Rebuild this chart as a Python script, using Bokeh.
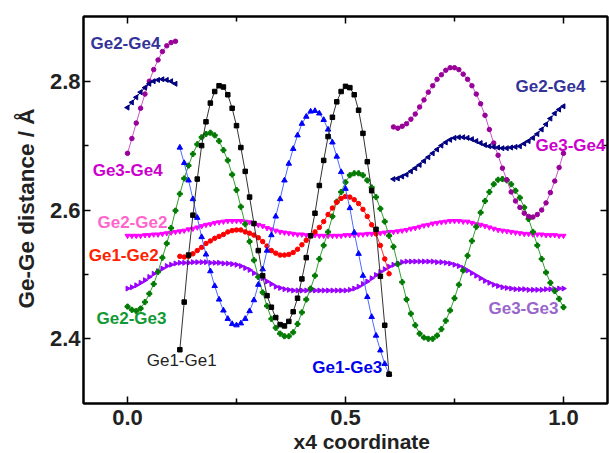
import math
from bokeh.plotting import figure
from bokeh.models import ColumnDataSource, Label, LinearAxis, FixedTicker, Range1d, Title
from bokeh.embed import file_html
from bokeh.resources import INLINE

STEP = 0.01


def grid(start, n):
    return [round(start + i * STEP, 2) for i in range(n)]


# ---- data (x4 = 0.12 .. 0.60) ----
ge1_ge1 = [2.383, 2.457, 2.530, 2.592, 2.648, 2.700, 2.737, 2.766, 2.784, 2.793,
           2.791, 2.779, 2.758, 2.731, 2.697, 2.660, 2.620, 2.579, 2.537, 2.498,
           2.467, 2.449, 2.433, 2.422, 2.420, 2.427, 2.442, 2.463, 2.493, 2.526,
           2.560, 2.595, 2.638, 2.677, 2.714, 2.744, 2.768, 2.784, 2.792, 2.790,
           2.779, 2.755, 2.719, 2.675, 2.630, 2.570, 2.497, 2.421, 2.345]
ge1_ge3 = [2.697, 2.673, 2.646, 2.617, 2.588, 2.558, 2.531, 2.505, 2.482, 2.461,
           2.444, 2.431, 2.423, 2.421, 2.424, 2.431, 2.443, 2.460, 2.484, 2.508,
           2.537, 2.561, 2.590, 2.617, 2.646, 2.672, 2.695, 2.716, 2.734, 2.745,
           2.753, 2.754, 2.750, 2.740, 2.725, 2.705, 2.683, 2.659, 2.633, 2.603,
           2.565, 2.532, 2.498, 2.465, 2.434, 2.405, 2.382, 2.361, 2.345]
ge1_ge2 = [2.528, 2.527, 2.528, 2.532, 2.537, 2.542, 2.548, 2.552, 2.556, 2.559,
           2.562, 2.566, 2.568, 2.569, 2.569, 2.566, 2.564, 2.561, 2.557, 2.551,
           2.544, 2.537, 2.533, 2.530, 2.530, 2.531, 2.534, 2.539, 2.546, 2.553,
           2.560, 2.566, 2.573, 2.582, 2.593, 2.603, 2.612, 2.618, 2.621, 2.620,
           2.616, 2.610, 2.601, 2.590, 2.577, 2.563, 2.545, 2.524, 2.501]

# ---- data (x4 = 0.00 .. 1.00) ----
ge2_ge3 = [2.450, 2.445, 2.443, 2.447, 2.457, 2.470, 2.485, 2.504, 2.526, 2.548,
           2.572, 2.599, 2.625, 2.649, 2.669, 2.687, 2.702, 2.713, 2.718, 2.720,
           2.716, 2.707, 2.693, 2.677, 2.655, 2.631, 2.605, 2.578, 2.551, 2.522,
           2.496, 2.472, 2.451, 2.431, 2.417, 2.408, 2.404, 2.404, 2.410, 2.423,
           2.441, 2.461, 2.478, 2.498, 2.524, 2.545, 2.566, 2.590, 2.613, 2.628,
           2.643, 2.654, 2.657, 2.657, 2.654, 2.646, 2.635, 2.620, 2.602, 2.582,
           2.560, 2.543, 2.516, 2.488, 2.461, 2.439, 2.421, 2.408, 2.402, 2.400,
           2.400, 2.405, 2.415, 2.428, 2.444, 2.463, 2.484, 2.506, 2.529, 2.552,
           2.574, 2.596, 2.614, 2.628, 2.640, 2.647, 2.648, 2.646, 2.640, 2.630,
           2.619, 2.604, 2.586, 2.566, 2.545, 2.524, 2.503, 2.487, 2.474, 2.462,
           2.449]
ge2_ge2 = [2.560, 2.560, 2.560, 2.560, 2.561, 2.561, 2.562, 2.562, 2.563, 2.564,
           2.565, 2.566, 2.567, 2.568, 2.570, 2.571, 2.573, 2.575, 2.577, 2.578,
           2.580, 2.581, 2.582, 2.583, 2.583, 2.583, 2.583, 2.582, 2.581, 2.579,
           2.577, 2.575, 2.572, 2.570, 2.568, 2.566, 2.565, 2.564, 2.563, 2.562,
           2.562, 2.561, 2.561, 2.561, 2.560, 2.560, 2.560, 2.560, 2.560, 2.560,
           2.561, 2.561, 2.561, 2.562, 2.562, 2.563, 2.563, 2.564, 2.564, 2.565,
           2.566, 2.566, 2.567, 2.568, 2.569, 2.571, 2.572, 2.574, 2.576, 2.577,
           2.579, 2.580, 2.581, 2.582, 2.583, 2.583, 2.583, 2.582, 2.582, 2.580,
           2.578, 2.577, 2.575, 2.573, 2.571, 2.569, 2.568, 2.567, 2.566, 2.565,
           2.564, 2.563, 2.563, 2.562, 2.562, 2.562, 2.561, 2.561, 2.561, 2.560,
           2.560]
ge3_ge3 = [2.478, 2.480, 2.483, 2.487, 2.491, 2.496, 2.501, 2.505, 2.509, 2.513,
           2.515, 2.517, 2.518, 2.518, 2.518, 2.519, 2.519, 2.519, 2.519, 2.518,
           2.518, 2.518, 2.517, 2.517, 2.516, 2.515, 2.513, 2.510, 2.507, 2.502,
           2.498, 2.494, 2.489, 2.485, 2.481, 2.479, 2.477, 2.476, 2.475, 2.475,
           2.475, 2.475, 2.475, 2.475, 2.475, 2.475, 2.475, 2.475, 2.475, 2.475,
           2.475, 2.476, 2.478, 2.481, 2.485, 2.489, 2.494, 2.499, 2.504, 2.508,
           2.512, 2.515, 2.517, 2.519, 2.520, 2.520, 2.520, 2.520, 2.520, 2.520,
           2.520, 2.519, 2.519, 2.518, 2.517, 2.515, 2.513, 2.510, 2.506, 2.502,
           2.498, 2.494, 2.490, 2.487, 2.484, 2.482, 2.480, 2.479, 2.478, 2.477,
           2.477, 2.477, 2.476, 2.476, 2.476, 2.476, 2.477, 2.477, 2.477, 2.478,
           2.478]

# ---- data in two pieces: x4 = 0.00 .. 0.11 and 0.61 .. 1.00 ----
ge3_ge4_a = [2.688, 2.711, 2.735, 2.758, 2.780, 2.800, 2.818, 2.833, 2.846, 2.855,
             2.860, 2.862]
ge3_ge4_b = [2.729, 2.727, 2.730, 2.734, 2.741, 2.749, 2.760, 2.771, 2.783, 2.793,
             2.803, 2.810, 2.817, 2.821, 2.821, 2.818, 2.811, 2.803, 2.793, 2.780,
             2.765, 2.747, 2.725, 2.704, 2.685, 2.665, 2.647, 2.628, 2.614, 2.604,
             2.595, 2.590, 2.589, 2.593, 2.600, 2.611, 2.627, 2.645, 2.666, 2.688]
ge2_ge4_a = [2.759, 2.767, 2.775, 2.783, 2.790, 2.796, 2.800, 2.802, 2.803, 2.802,
             2.800, 2.796]
ge2_ge4_b = [2.648, 2.649, 2.652, 2.655, 2.660, 2.665, 2.670, 2.676, 2.682, 2.688,
             2.694, 2.700, 2.705, 2.709, 2.712, 2.713, 2.713, 2.712, 2.710, 2.707,
             2.704, 2.701, 2.699, 2.698, 2.697, 2.696, 2.696, 2.697, 2.698, 2.699,
             2.703, 2.707, 2.712, 2.718, 2.725, 2.733, 2.742, 2.750, 2.756, 2.761]

x_ticks = [0.0, 0.5, 1.0]
x_minor = [0.25, 0.75]
y_ticks = [2.4, 2.6, 2.8]
y_minor = [2.5, 2.7]

FONT = "Liberation Sans"

p = figure(width=609, height=453, output_backend="svg", toolbar_location=None,
           x_range=Range1d(-0.101, 1.101), y_range=Range1d(2.2995, 2.9005),
           min_border_left=83, min_border_right=2, min_border_top=16,
           min_border_bottom=50)
p.grid.visible = False
p.background_fill_color = "white"
p.outline_line_color = "black"
p.outline_line_width = 2


def series(xs, ys, line_color, marker, color, size, angle=0.0):
    src = ColumnDataSource(dict(x=xs, y=ys))
    p.line("x", "y", source=src, line_color=line_color, line_width=1)
    p.scatter("x", "y", source=src, marker=marker, size=size, fill_color=color,
              line_color=color, angle=angle)


series(grid(0.0, 101), ge3_ge3, "#a040ff", "triangle", "#9a00ff", 5, -math.pi / 2)
series(grid(0.0, 101), ge2_ge2, "#ff33ff", "inverted_triangle", "#ff00ff", 5)
series(grid(0.0, 101), ge2_ge3, "#33a033", "plus", "#007a00", 5)
series(grid(0.12, 49), ge1_ge2, "#ff3030", "circle", "#ff0000", 4.5)
series(grid(0.12, 49), ge1_ge3, "#4d6bff", "triangle", "#0000ff", 5.5)
series(grid(0.12, 49), ge1_ge1, "#333333", "square", "#000000", 4.5)
series(grid(0.0, 12), ge3_ge4_a, "#cc55cc", "circle", "#990099", 4.5)
series(grid(0.61, 40), ge3_ge4_b, "#cc55cc", "circle", "#990099", 4.5)
series(grid(0.0, 12), ge2_ge4_a, "#000080", "triangle", "#000080", 5, math.pi / 2)
series(grid(0.61, 40), ge2_ge4_b, "#000080", "triangle", "#000080", 5, math.pi / 2)

# axes
for ax in (p.xaxis[0], p.yaxis[0]):
    ax.axis_line_width = 2
    ax.major_tick_line_width = 1.5
    ax.minor_tick_line_width = 1.5
    ax.major_tick_in = 7
    ax.major_tick_out = 0
    ax.minor_tick_in = 5
    ax.minor_tick_out = 0
    ax.major_label_text_font = FONT
    ax.major_label_text_font_style = "bold"
    ax.major_label_text_font_size = "22px"
    ax.major_label_text_color = "#222222"

p.xaxis.ticker = FixedTicker(ticks=x_ticks, minor_ticks=x_minor)
p.yaxis.ticker = FixedTicker(ticks=y_ticks, minor_ticks=y_minor)
p.xaxis.major_label_overrides = {0.0: "0.0", 0.5: "0.5", 1.0: "1.0"}
p.yaxis.major_label_overrides = {2.4: "2.4", 2.6: "2.6", 2.8: "2.8"}
p.xaxis.major_label_standoff = 6
p.yaxis.major_label_standoff = 3

top = LinearAxis(ticker=FixedTicker(ticks=x_ticks, minor_ticks=x_minor))
right = LinearAxis(ticker=FixedTicker(ticks=y_ticks, minor_ticks=y_minor))
for ax in (top, right):
    ax.axis_line_width = 2
    ax.major_tick_line_width = 1.5
    ax.minor_tick_line_width = 1.5
    ax.major_tick_in = 7
    ax.major_tick_out = 0
    ax.minor_tick_in = 5
    ax.minor_tick_out = 0
    ax.major_label_text_font_size = "0px"
    ax.major_label_standoff = 0
    ax.major_label_text_alpha = 0
p.add_layout(top, "above")
p.add_layout(right, "right")

# axis titles (as side-panel titles for exact placement)
p.add_layout(Title(text="x4 coordinate", text_font=FONT, text_font_style="bold",
                   text_font_size="21px", text_color="#222222", align="left",
                   offset=210, standoff=0), "below")
p.add_layout(Title(text="Ge-Ge distance / Å", text_font=FONT, text_font_style="bold",
                   text_font_size="22.5px", text_color="#222222", align="left",
                   offset=95, standoff=15), "left")

# series labels
labels = [
    ("Ge2-Ge4", -0.085, 2.8585, "#333399", "bold"),
    ("Ge3-Ge4", -0.080, 2.661, "#cc00cc", "bold"),
    ("Ge2-Ge2", -0.069, 2.581, "#ff66cc", "bold"),
    ("Ge1-Ge2", -0.089, 2.529, "#ff2200", "bold"),
    ("Ge2-Ge3", -0.071, 2.431, "#119933", "bold"),
    ("Ge1-Ge1", 0.044, 2.366, "#222222", "normal"),
    ("Ge1-Ge3", 0.424, 2.355, "#0000ee", "bold"),
    ("Ge3-Ge3", 0.828, 2.447, "#9966cc", "bold"),
    ("Ge2-Ge4", 0.890, 2.792, "#333399", "bold"),
    ("Ge3-Ge4", 0.936, 2.700, "#cc00cc", "bold"),
]
for txt, lx, ly, col, style in labels:
    p.add_layout(Label(x=lx, y=ly, text=txt, text_font=FONT, text_font_style=style,
                       text_font_size="17px", text_color=col, text_align="left",
                       text_baseline="middle"))

open("out.html", "w").write(file_html(p, INLINE))
